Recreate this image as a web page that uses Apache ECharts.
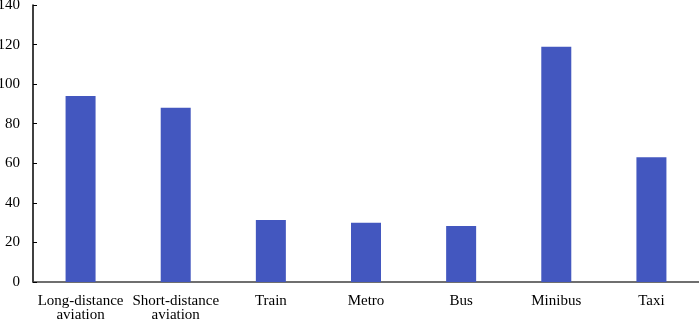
<!DOCTYPE html>
<html>
<head>
<meta charset="utf-8">
<script src="https://cdn.jsdelivr.net/npm/echarts@6/dist/echarts.min.js"></script>
<style>html,body{margin:0;padding:0;background:#fff}#c{width:699px;height:322px}</style>
</head>
<body>
<div id="c"></div>
<script>
var categories = ["Long-distance\naviation", "Short-distance\naviation", "Train", "Metro", "Bus", "Minibus", "Taxi"];
var values = [94.0, 88.1, 31.3, 30.0, 28.3, 118.9, 63.0];
var yTicks = [0, 20, 40, 60, 80, 100, 120, 140];

var chart = echarts.init(document.getElementById('c'));
chart.setOption({
  animation: false,
  grid: {left: 33, right: 0, top: 5, bottom: 40, containLabel: false, outerBoundsMode: 'none'},
  xAxis: {
    type: 'category',
    data: categories,
    axisLine: {lineStyle: {color: '#404040', width: 1.5}},
    axisTick: {show: false},
    axisLabel: {color: '#000', fontFamily: 'Liberation Serif', fontSize: 15, lineHeight: 14, margin: 12, interval: 0}
  },
  yAxis: {
    type: 'value',
    min: yTicks[0],
    max: yTicks[yTicks.length - 1],
    interval: 20,
    axisLine: {show: true, lineStyle: {color: '#000', width: 1.5}},
    axisTick: {show: true, inside: true, length: 4, lineStyle: {color: '#000'}},
    splitLine: {show: false},
    axisLabel: {color: '#000', fontFamily: 'Liberation Serif', fontSize: 15, margin: 13}
  },
  series: [{
    type: 'bar',
    data: values,
    barWidth: 30,
    itemStyle: {color: '#4357BF'}
  }]
});
</script>
</body>
</html>
